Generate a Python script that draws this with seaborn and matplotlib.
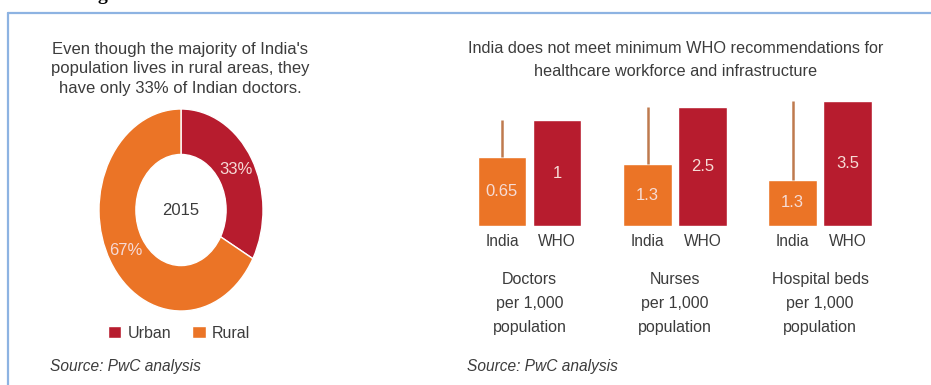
import matplotlib.pyplot as plt
from matplotlib.lines import Line2D
import seaborn as sns

# left panel: share of Indian doctors, 2015
share_labels = ["Urban", "Rural"]
share_values = [33, 67]
donut_year = "2015"

# right panel: India vs WHO minimum per 1,000 population
bar_names = ["India", "WHO"]
group_titles = ["Doctors\nper 1,000\npopulation",
                "Nurses\nper 1,000\npopulation",
                "Hospital beds\nper 1,000\npopulation"]
india_values = [0.65, 1.3, 1.3]
who_values = [1, 2.5, 3.5]

red = "#B71C2E"
orange = "#EB7426"
gap_col = "#BF7A4E"
txt = "#3C3C3C"

sns.set_theme(style="white")
plt.rcParams['font.family'] = ['Liberation Sans', 'DejaVu Sans']

W, H = 931, 385
fig = plt.figure(figsize=(W / 100, H / 100), dpi=100)


def box(x0, y0, x1, y1):
    # pixel box (from top-left) -> figure coords
    return [x0 / W, 1 - y1 / H, (x1 - x0) / W, (y1 - y0) / H]


# frame of the source document
fig.add_artist(Line2D([8 / W, 1], [1 - 13 / H, 1 - 13 / H], color="#8DB3E2",
                      lw=1.6, transform=fig.transFigure))
fig.add_artist(Line2D([8 / W, 8 / W], [1 - 13 / H, 0], color="#8DB3E2",
                      lw=1.6, transform=fig.transFigure))
fig.text(97 / W, 1.0, "g", fontsize=14, fontweight="bold",
         family="Liberation Serif", va="baseline", color="black")

# ---- donut ----
ax = fig.add_axes(box(99, 109, 263, 311))
wedges, _, autotexts = ax.pie(share_values, colors=[red, orange], startangle=90,
                              counterclock=False, autopct="%d%%", pctdistance=0.78,
                              wedgeprops=dict(width=0.45, edgecolor="white", linewidth=1),
                              textprops=dict(color="#F6D9D6", fontsize=12))
ax.set_aspect("auto")
ax.set_xlim(-1, 1)
ax.set_ylim(-1, 1)
ax.text(0, 0, donut_year, ha="center", va="center", fontsize=12, color=txt)
ax.legend(wedges, share_labels, ncol=2, frameon=False, loc="center",
          bbox_to_anchor=(179 / W, 1 - 333 / H), bbox_transform=fig.transFigure,
          handlelength=0.85, handleheight=0.85, handletextpad=0.4,
          columnspacing=1.3, fontsize=11.5, labelcolor=txt)

fig.text(180 / W, 1 - 69 / H,
         "Even though the majority of India's\npopulation lives in rural areas, they\nhave only 33% of Indian doctors.",
         ha="center", va="center", fontsize=12, color=txt, linespacing=1.4)
fig.text(50 / W, 1 - 367 / H, "Source: PwC analysis", ha="left", va="center",
         fontsize=11.2, style="italic", color=txt)

# ---- India vs WHO bars ----
centers = [529.5, 675, 820]
ytops = [1.23, 2.73, 3.64]
for i in range(3):
    cx = centers[i]
    bx = fig.add_axes(box(cx - 55, 226 - 130, cx + 55, 226))
    vals = [india_values[i], who_values[i]]
    sns.barplot(x=bar_names, y=vals, hue=bar_names, palette=[orange, red],
                width=0.88, legend=False, ax=bx, saturation=1)
    bx.vlines(0, india_values[i], who_values[i], color=gap_col, lw=1.8, zorder=3)
    for c in bx.containers:
        bx.bar_label(c, fmt="{:g}", label_type="center", color="#F6DCD6", fontsize=12)
    bx.set_ylim(0, ytops[i])
    bx.set_xlim(-0.5, 1.5)
    sns.despine(ax=bx, left=True, bottom=True)
    bx.set_yticks([])
    bx.tick_params(axis="x", length=0, pad=6, labelsize=11.2, labelcolor=txt)
    bx.set_xlabel(group_titles[i], fontsize=11.5, color=txt, labelpad=16, linespacing=1.75)
    bx.set_ylabel("")

fig.text(676 / W, 1 - 60 / H,
         "India does not meet minimum WHO recommendations for\nhealthcare workforce and infrastructure",
         ha="center", va="center", fontsize=11.7, color=txt, linespacing=1.65)
fig.text(467 / W, 1 - 367 / H, "Source: PwC analysis", ha="left", va="center",
         fontsize=11.2, style="italic", color=txt)

fig.savefig("out.png", dpi=100)
